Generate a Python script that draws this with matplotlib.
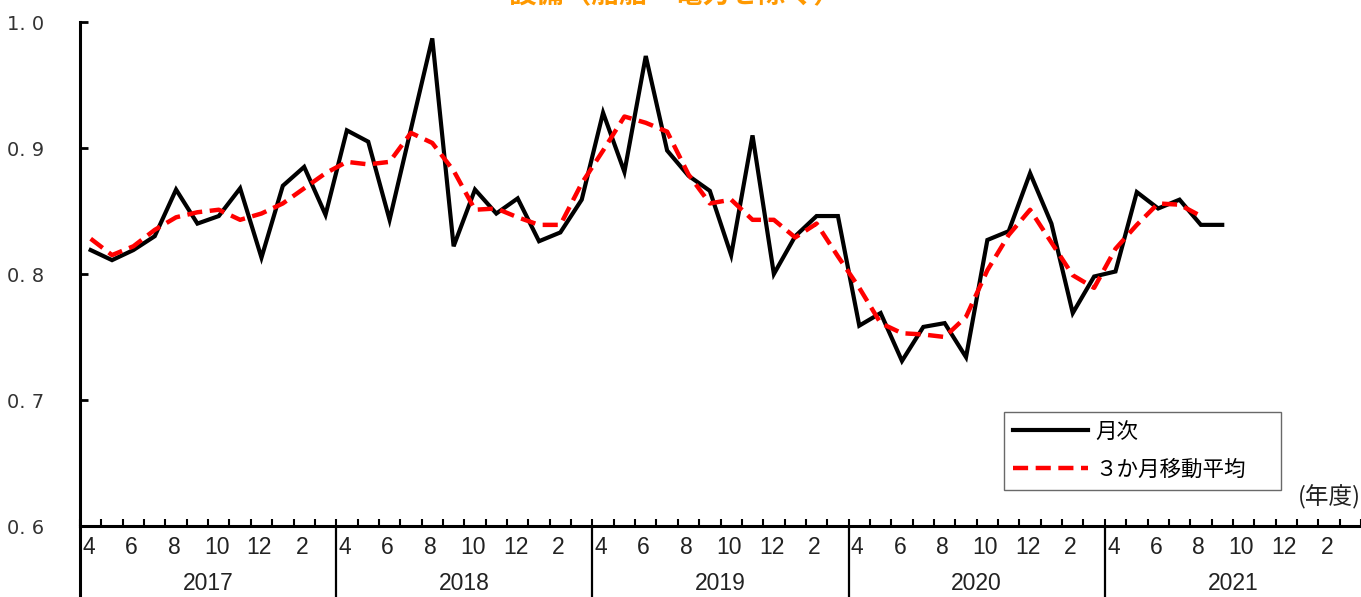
import matplotlib
matplotlib.use("Agg")
import matplotlib.pyplot as plt
import matplotlib.transforms as mtransforms
import numpy as np

# ---------------- data ----------------
fiscal_years = ["2017", "2018", "2019", "2020", "2021"]
month_labels = ["4", "", "6", "", "8", "", "10", "", "12", "", "2", ""]

monthly = [
    # 2017: 4..3
    0.819, 0.811, 0.819, 0.830, 0.867, 0.840, 0.846, 0.868, 0.813, 0.870, 0.885, 0.847,
    # 2018
    0.914, 0.905, 0.843, 0.915, 0.987, 0.822, 0.867, 0.848, 0.860, 0.826, 0.833, 0.859,
    # 2019
    0.928, 0.881, 0.973, 0.898, 0.878, 0.866, 0.815, 0.910, 0.800, 0.830, 0.846, 0.846,
    # 2020
    0.759, 0.769, 0.731, 0.758, 0.761, 0.734, 0.827, 0.834, 0.880, 0.840, 0.769, 0.798,
    # 2021 (Apr-Sep)
    0.802, 0.865, 0.852, 0.859, 0.839, 0.839,
]

moving_avg = [
    # 2017
    0.828, 0.815, 0.822, 0.835, 0.845, 0.849, 0.851, 0.843, 0.848, 0.856, 0.868, 0.880,
    # 2018
    0.889, 0.887, 0.889, 0.912, 0.904, 0.882, 0.851, 0.852, 0.845, 0.839, 0.839, 0.872,
    # 2019
    0.898, 0.925, 0.920, 0.913, 0.879, 0.856, 0.859, 0.843, 0.843, 0.829, 0.840, 0.814,
    # 2020
    0.789, 0.761, 0.753, 0.752, 0.750, 0.766, 0.803, 0.831, 0.851, 0.825, 0.799, 0.789,
    # 2021 (Apr-Aug)
    0.820, 0.839, 0.856, 0.855, 0.846,
]

yticks = [0.6, 0.7, 0.8, 0.9, 1.0]
ytick_labels = ["0. 6", "0. 7", "0. 8", "0. 9", "1. 0"]

title = "設備（船舶・電力を除く）"
legend_labels = ["月次", "３か月移動平均"]
unit_label = "(年度)"

# ---------------- figure ----------------
W, H = 1361, 597
fig = plt.figure(figsize=(W / 100, H / 100), dpi=100)
fig.patch.set_facecolor("white")

left_px, right_px, top_px, bottom_px = 80, 1361, 22, 526
ax = fig.add_axes([left_px / W, 1 - bottom_px / H,
                   (right_px - left_px) / W, (bottom_px - top_px) / H])

cjk = ["Noto Sans CJK JP", "DejaVu Sans"]
narrow = ["Liberation Sans Narrow", "Liberation Sans", "DejaVu Sans"]

n_months = len(fiscal_years) * 12
x_month = np.arange(len(monthly)) + 0.5
x_ma = np.arange(len(moving_avg)) + 0.5

ax.plot(x_month, monthly, color="black", lw=3.0, solid_joinstyle="miter",
        label=legend_labels[0], zorder=3)
ax.plot(x_ma, moving_avg, color="#ff0000", lw=3.2, dashes=(3.4, 1.7),
        label=legend_labels[1], zorder=4)

ax.set_xlim(0, n_months)
ax.set_ylim(0.6, 1.0)

for s in ["top", "right"]:
    ax.spines[s].set_visible(False)
ax.spines["left"].set_linewidth(2.2)
ax.spines["bottom"].set_linewidth(2.2)

ax.set_yticks(yticks)
ax.set_yticklabels(ytick_labels, fontsize=14, color="#333333",
                   family=["DejaVu Sans"])
ax.tick_params(axis="y", direction="in", length=6, width=2, pad=26)

ax.set_xticks(np.arange(0, n_months + 1), minor=False)
ax.set_xticklabels([])
ax.tick_params(axis="x", direction="in", length=5, width=1.5, pad=0)

# month & year labels below axis
trans = mtransforms.blended_transform_factory(ax.transData, ax.transAxes)
px_to_ax = 1 / (bottom_px - top_px)
for yi, fy in enumerate(fiscal_years):
    base = yi * 12
    for mi, ml in enumerate(month_labels):
        if ml:
            ax.text(base + mi + 0.4, -22 * px_to_ax, ml, transform=trans,
                    ha="center", va="center", fontsize=16.5, family=narrow,
                    color="#222222")
    ax.text(base + 6, -57 * px_to_ax, fy, transform=trans, ha="center",
            va="center", fontsize=16.5, family=narrow, color="#222222")
    ax.plot([base, base], [0, -(H - bottom_px + 5) * px_to_ax], transform=trans,
            color="black", lw=2.2 if yi == 0 else 1.6, clip_on=False,
            solid_capstyle="butt")

# legend
lx0 = (1004 - left_px) / (right_px - left_px)
lw_ = (1281 - 1004) / (right_px - left_px)
ly0 = (bottom_px - 490) * px_to_ax
lh = (490 - 413) * px_to_ax
leg = ax.legend(loc="lower left", bbox_to_anchor=(lx0, ly0, lw_, lh),
                mode="expand",
                prop={"family": cjk, "size": 15.5}, frameon=True, fancybox=False,
                edgecolor="#444444", handlelength=3.5, handletextpad=0.3,
                borderpad=0.42, labelspacing=0.75, borderaxespad=0)
leg.get_frame().set_linewidth(1.0)

fig.text(1.0, 1 - 497 / H, unit_label, ha="right", va="center", fontsize=17,
         family=cjk, color="#222222")

# title (cut off at the top of the image, as in the source)
fig.text(0.496, 1 - 9 / H, title, ha="center", va="bottom", fontsize=20,
         fontweight="bold", color="#ff9900", family=cjk)

fig.savefig("out.png", dpi=100, facecolor="white")
